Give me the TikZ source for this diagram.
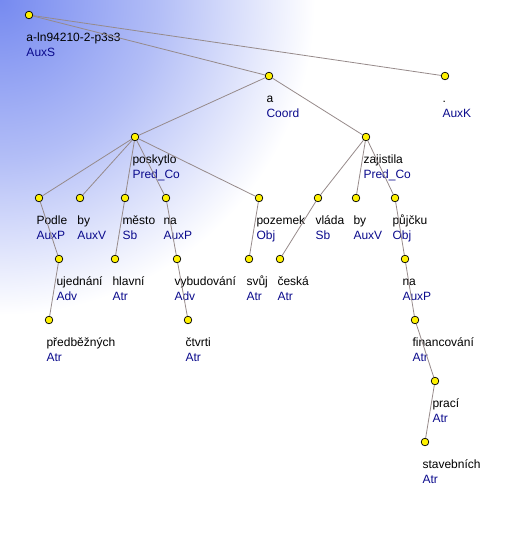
\documentclass[tikz,border=0pt]{standalone}
\usepackage{fontspec}
\setmainfont{Liberation Sans}
\definecolor{treeblue}{RGB}{118,138,240}
\definecolor{edgegray}{RGB}{150,138,138}
\definecolor{funblue}{RGB}{10,10,140}

\pgfdeclareradialshading{treefade}{\pgfpoint{0bp}{0bp}}{%
	color(0bp)=(treeblue); color(12.5bp)=(treeblue!56!white);
	color(25bp)=(white); color(50bp)=(white)}

% one tree node: name, x, y, word, function
\newcommand{\tnode}[5]{%
	\node[dot] (#1) at (#2,#3) {};
	\node[word] (#1-w) at (#2-2.7,#3+26) {#4};
	\node[afun] (#1-f) at (#2-2.7,#3+41) {#5};
}

\begin{document}
\begin{tikzpicture}[x=1pt, y=-1pt,
		dot/.style={circle, draw=black, line width=0.7pt, fill=yellow, inner sep=0pt, minimum size=7.6pt},
		word/.style={anchor=base west, inner sep=0pt, font=\fontsize{12}{14}\selectfont},
		afun/.style={word, text=funblue},
		edge/.style={draw=edgegray, line width=0.8pt}]

		\useasboundingbox (0,0) rectangle (506,550);
		\begin{scope}
			\clip (0,0) rectangle (506,550);
			\shade[shading=treefade] (0,0) circle (315pt);
		\end{scope}

		\tnode{root}{29}{15}{a-ln94210-2-p3s3}{AuxS}
		\tnode{a}{269}{76}{a}{Coord}
		\tnode{dot}{445}{76}{.}{AuxK}
		\tnode{poskytlo}{135}{137}{poskytlo}{Pred\_Co}
		\tnode{zajistila}{366}{137}{zajistila}{Pred\_Co}
		\tnode{podle}{39}{198}{Podle}{AuxP}
		\tnode{by}{80}{198}{by}{AuxV}
		\tnode{mesto}{125}{198}{město}{Sb}
		\tnode{na}{166}{198}{na}{AuxP}
		\tnode{pozemek}{259}{198}{pozemek}{Obj}
		\tnode{vlada}{318}{198}{vláda}{Sb}
		\tnode{bytwo}{356}{198}{by}{AuxV}
		\tnode{pujcku}{395}{198}{půjčku}{Obj}
		\tnode{ujednani}{59}{259}{ujednání}{Adv}
		\tnode{hlavni}{115}{259}{hlavní}{Atr}
		\tnode{vybudovani}{177}{259}{vybudování}{Adv}
		\tnode{svuj}{249}{259}{svůj}{Atr}
		\tnode{ceska}{280}{259}{česká}{Atr}
		\tnode{natwo}{405}{259}{na}{AuxP}
		\tnode{predbeznych}{49}{320}{předběžných}{Atr}
		\tnode{ctvrti}{188}{320}{čtvrti}{Atr}
		\tnode{financovani}{415}{320}{financování}{Atr}
		\tnode{praci}{435}{381}{prací}{Atr}
		\tnode{stavebnich}{425}{442}{stavebních}{Atr}

		% edges
		\path[edge] (root) -- (a);
		\path[edge] (root) -- (dot);
		\path[edge] (a) -- (poskytlo);
		\path[edge] (a) -- (zajistila);
		\path[edge] (poskytlo) -- (podle);
		\path[edge] (poskytlo) -- (by);
		\path[edge] (poskytlo) -- (mesto);
		\path[edge] (poskytlo) -- (na);
		\path[edge] (poskytlo) -- (pozemek);
		\path[edge] (podle) -- (ujednani);
		\path[edge] (ujednani) -- (predbeznych);
		\path[edge] (mesto) -- (hlavni);
		\path[edge] (na) -- (vybudovani);
		\path[edge] (vybudovani) -- (ctvrti);
		\path[edge] (pozemek) -- (svuj);
		\path[edge] (zajistila) -- (vlada);
		\path[edge] (zajistila) -- (bytwo);
		\path[edge] (zajistila) -- (pujcku);
		\path[edge] (vlada) -- (ceska);
		\path[edge] (pujcku) -- (natwo);
		\path[edge] (natwo) -- (financovani);
		\path[edge] (financovani) -- (praci);
		\path[edge] (praci) -- (stavebnich);

	\end{tikzpicture}
\end{document}
